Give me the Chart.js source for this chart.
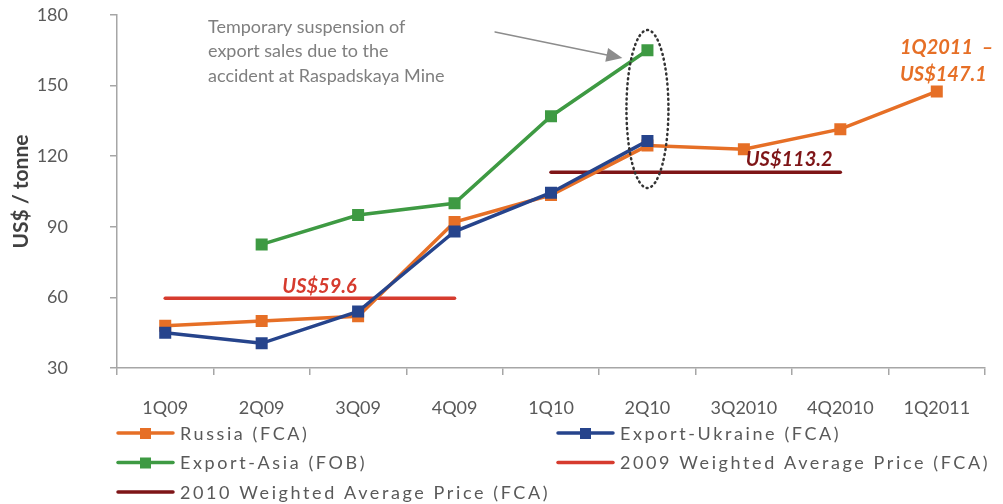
<!DOCTYPE html>
<html>
<head>
<meta charset="utf-8">
<script src="https://cdn.jsdelivr.net/npm/chart.js"></script>
<style>
  body { margin: 0; background: #fff; }
  #wrap { width: 1003px; height: 504px; }
</style>
</head>
<body>
<div id="wrap"><canvas id="myChart" width="1003" height="504"></canvas></div>
<script>
// quarters on the x axis
const quarters = ['1Q09', '2Q09', '3Q09', '4Q09', '1Q10', '2Q10', '3Q2010', '4Q2010', '1Q2011']

// prices, US$ / tonne
const russia = [48, 50, 52, 92, 103.5, 124.5, 123, 131.5, 147.5]
const ukraine = [45, 40.5, 54, 88, 104.5, 126.5, null, null, null]
const asia = [null, 82.5, 95, 100, 137, 165, null, null, null]
const avg2009 = [59.6, 59.6, 59.6, 59.6, null, null, null, null, null]
const avg2010 = [null, null, null, null, 113.2, 113.2, 113.2, 113.2, null]

const yTicks = [30, 60, 90, 120, 150, 180]

const ORANGE = '#e66f26'
const BLUE = '#26448c'
const GREEN = '#3e9a43'
const RED = '#d63b2e'
const DARKRED = '#7e1517'
const TXT = '#595959'
const FONT = 'Lato, "Open Sans", sans-serif'

const legendItems = [
    { label: 'Russia (FCA)', color: ORANGE, marker: true, col: 0, row: 0 },
    { label: 'Export-Ukraine (FCA)', color: BLUE, marker: true, col: 1, row: 0 },
    { label: 'Export-Asia (FOB)', color: GREEN, marker: true, col: 0, row: 1 },
    { label: '2009 Weighted Average Price (FCA)', color: RED, marker: false, col: 1, row: 1 },
    { label: '2010 Weighted Average Price (FCA)', color: DARKRED, marker: false, col: 0, row: 2 },
]

// extra drawing: notes, arrow, dotted ellipse and the legend
const extras = {
    id: 'extras',
    afterDatasetsDraw(chart) {
        const ctx = chart.ctx
        const x = chart.scales.x
        const y = chart.scales.y
        ctx.save()

        // dotted ellipse round 2Q10
        const ex = x.getPixelForValue(5)
        const eTop = y.getPixelForValue(173.6)
        const eBot = y.getPixelForValue(106.5)
        ctx.beginPath()
        ctx.ellipse(ex, (eTop + eBot) / 2, 21, (eBot - eTop) / 2, 0, 0, Math.PI * 2)
        ctx.setLineDash([1, 4])
        ctx.lineCap = 'round'
        ctx.lineWidth = 2.5
        ctx.strokeStyle = '#333'
        ctx.stroke()
        ctx.setLineDash([])

        // arrow
        const ax1 = x.getPixelForValue(3.42), ay1 = y.getPixelForValue(172.8)
        const ax2 = x.getPixelForValue(4.74), ay2 = y.getPixelForValue(161.7)
        const ang = Math.atan2(ay2 - ay1, ax2 - ax1)
        ctx.strokeStyle = '#8c8c8c'
        ctx.fillStyle = '#8c8c8c'
        ctx.lineWidth = 1.5
        ctx.beginPath()
        ctx.moveTo(ax1, ay1)
        ctx.lineTo(ax2 - 12 * Math.cos(ang), ay2 - 12 * Math.sin(ang))
        ctx.stroke()
        ctx.beginPath()
        ctx.moveTo(ax2, ay2)
        ctx.lineTo(ax2 - 16 * Math.cos(ang) + 7 * Math.sin(ang), ay2 - 16 * Math.sin(ang) - 7 * Math.cos(ang))
        ctx.lineTo(ax2 - 16 * Math.cos(ang) - 7 * Math.sin(ang), ay2 - 16 * Math.sin(ang) + 7 * Math.cos(ang))
        ctx.closePath()
        ctx.fill()

        // note text
        ctx.fillStyle = '#7f7f7f'
        ctx.font = '18px ' + FONT
        ctx.textAlign = 'left'
        ctx.textBaseline = 'middle'
        const note = ['Temporary suspension of', 'export sales due to the', 'accident at Raspadskaya Mine']
        note.forEach((t, i) => ctx.fillText(t, 208, 27 + i * 24.5))

        // value labels
        ctx.font = 'italic bold 20px ' + FONT
        ctx.textAlign = 'center'
        ctx.fillStyle = RED
        ctx.fillText('US$59.6', x.getPixelForValue(1.6), y.getPixelForValue(59.6) - 12)
        ctx.fillStyle = DARKRED
        ctx.fillText('US$113.2', x.getPixelForValue(6.47), y.getPixelForValue(113.2) - 13)
        ctx.fillStyle = ORANGE
        ctx.textAlign = 'left'
        ctx.fillText('1Q2011  \u2013', 900, 48)
        ctx.fillText('US$147.1', 900, 75)

        // legend
        ctx.font = '18px ' + FONT
        ctx.letterSpacing = '2.6px'
        ctx.textBaseline = 'middle'
        legendItems.forEach(it => {
            const lx = it.col === 0 ? 118 : 558
            const ly = 433 + it.row * 29.5
            ctx.strokeStyle = it.color
            ctx.lineWidth = 3.5
            ctx.lineCap = 'round'
            ctx.beginPath()
            ctx.moveTo(lx, ly)
            ctx.lineTo(lx + 55, ly)
            ctx.stroke()
            if (it.marker) {
                ctx.fillStyle = it.color
                ctx.fillRect(lx + 22, ly - 5, 11, 11)
            }
            ctx.fillStyle = TXT
            ctx.fillText(it.label, lx + 62, ly + 1)
        })
        ctx.restore()
    }
}

const seriesStyle = (color) => ({
    borderColor: color,
    backgroundColor: color,
    borderWidth: 3.5,
    pointStyle: 'rect',
    pointRadius: 8.5,
    pointBorderWidth: 0,
    pointHoverRadius: 8.5,
    tension: 0,
    spanGaps: false,
})

const context = document.getElementById('myChart')
const myChart = new Chart(context, {
    type: 'line',
    data: {
        labels: quarters,
        datasets: [
            { label: 'Export-Ukraine (FCA)', data: ukraine, order: 1, ...seriesStyle(BLUE) },
            { label: 'Russia (FCA)', data: russia, order: 2, ...seriesStyle(ORANGE) },
            { label: 'Export-Asia (FOB)', data: asia, order: 3, ...seriesStyle(GREEN) },
            { label: '2009 Weighted Average Price (FCA)', data: avg2009, order: 4, borderColor: RED, borderWidth: 3.5, pointRadius: 0, borderCapStyle: 'round' },
            { label: '2010 Weighted Average Price (FCA)', data: avg2010, order: 5, borderColor: DARKRED, borderWidth: 3.5, pointRadius: 0, borderCapStyle: 'round' },
        ]
    },
    options: {
        responsive: false,
        animation: false,
        layout: { padding: { top: 15, right: 18, bottom: 86, left: 0 } },
        plugins: {
            legend: { display: false },
            tooltip: { enabled: false },
        },
        scales: {
            x: {
                offset: true,
                afterFit: (s) => { s.height = 50 },
                border: { color: '#a6a6a6', width: 1.5 },
                grid: { offset: true, drawOnChartArea: false, tickLength: 7, color: '#a6a6a6', lineWidth: 1.5 },
                ticks: { padding: 22, color: TXT, font: { family: FONT, size: 18 }, maxRotation: 0, autoSkip: false },
            },
            y: {
                min: 30,
                max: 180,
                afterFit: (s) => { s.width = 117; s.paddingTop = 0; s.paddingBottom = 0 },
                afterBuildTicks: (s) => { s.ticks = yTicks.map(v => ({ value: v })) },
                border: { color: '#a6a6a6', width: 1.5 },
                grid: { drawOnChartArea: false, tickLength: 7, color: '#a6a6a6', lineWidth: 1.5 },
                ticks: { padding: 42, color: TXT, font: { family: FONT, size: 18 } },
                title: { display: true, text: 'US$ / tonne', color: '#404040', font: { family: FONT, size: 21, weight: 'bold' }, padding: { top: 9, bottom: 0 } },
            }
        }
    },
    plugins: [extras]
})
</script>
</body>
</html>
